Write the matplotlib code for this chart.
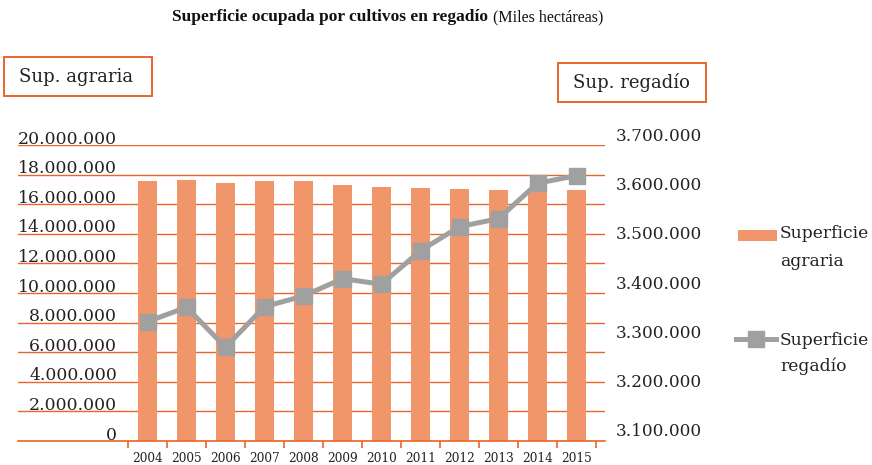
import numpy as np
import matplotlib
matplotlib.use("Agg")
import matplotlib.pyplot as plt
from matplotlib.patches import Rectangle
from matplotlib.lines import Line2D
from matplotlib.transforms import offset_copy, blended_transform_factory

plt.rcParams.update({"font.family": ["DejaVu Serif"], "font.size": 11})

# ---- data ----
years = ["2004", "2005", "2006", "2007", "2008", "2009", "2010", "2011", "2012", "2013", "2014", "2015"]
sup_agraria = [17590000, 17640000, 17450000, 17550000, 17550000, 17300000,
               17180000, 17070000, 17030000, 16960000, 16950000, 16960000]
sup_regadio = [3323700, 3353000, 3271700, 3354200, 3376000, 3411200,
               3399800, 3468100, 3516900, 3533200, 3605200, 3620700]
left_ticks = list(range(0, 20000001, 2000000))
right_ticks = [3100000, 3200000, 3300000, 3400000, 3500000, 3600000, 3700000]

ORANGE, BAR, GREY, INK = "#EA652B", "#F1956A", "#A0A0A0", "#222222"
TITLE_FONT = ["Liberation Serif", "DejaVu Serif"]


def fmt(v):
    return f"{v:,.0f}".replace(",", ".")


W, H = 872, 465
fig = plt.figure(figsize=(W / 100, H / 100), dpi=100)
# plot area in px: x 18..605, y 145..441
ax = fig.add_axes([18 / W, (H - 441) / H, 587 / W, 296 / H])
x = np.arange(len(years))
ax.bar(x, sup_agraria, width=0.51, color=BAR, zorder=2)
ax.set_yticks(left_ticks)
ax.set_ylim(0, 20000000)
ax.yaxis.grid(True, color=ORANGE, lw=1.0, zorder=1)
ax.set_axisbelow(True)
ax.tick_params(axis="y", length=0, labelleft=False)
for s in ["left", "right", "top"]:
    ax.spines[s].set_visible(False)
ax.spines["bottom"].set_color(ORANGE)
ax.spines["bottom"].set_linewidth(1.2)
ax.spines["bottom"].set_zorder(3)

# category boundaries as ticks, years as minor labels
ax.set_xticks(np.arange(-0.5, 12, 1))
ax.set_xticklabels([])
ax.tick_params(axis="x", which="major", length=5, width=1.2, color=ORANGE, direction="out")
ax.set_xticks(x, minor=True)
ax.set_xticklabels(years, minor=True, fontsize=8.7, color=INK)
ax.tick_params(axis="x", which="minor", length=0, pad=8)
ax.set_xlim(-0.5 - 110 / 39, 11.5 + 9 / 39)

# left-axis labels sitting on top of gridlines
tr = blended_transform_factory(ax.transAxes, ax.transData)
tr = offset_copy(tr, fig=fig, x=0, y=1.5, units="dots")
for v in left_ticks:
    ax.text(99 / 587, v, fmt(v), ha="right", va="baseline", fontsize=12.4,
            color=INK, transform=tr)

# secondary axis: irrigated area
ax2 = ax.twinx()
ax2.plot(x, sup_regadio, color=GREY, lw=3.6, marker="s", ms=11, zorder=4)
ax2.set_ylim(3081000, 3683000)
ax2.set_yticks([])
for s in ax2.spines.values():
    s.set_visible(False)
tr2 = blended_transform_factory(ax2.transAxes, ax2.transData)
for v in right_ticks:
    ax2.text(1 + 11 / 587, v, fmt(v), ha="left", va="center", fontsize=12.2,
             color=INK, transform=tr2, clip_on=False)

# title
t1 = fig.text(172 / W, 1 - 17 / H, "Superficie ocupada por cultivos en regadío", family=TITLE_FONT,
              fontweight="bold", fontsize=12.5, va="center", ha="left", color="#111")
fig.canvas.draw()
bb = t1.get_window_extent()
fig.text((bb.x1 + 5) / W, 1 - 17 / H, "(Miles hectáreas)", family=TITLE_FONT, fontsize=11.5,
         va="center", ha="left", color="#111")

# axis caption boxes
fig.patches.append(Rectangle((4 / W, 1 - 96 / H), 148 / W, 39 / H, transform=fig.transFigure,
                             fill=False, ec=ORANGE, lw=1.4))
fig.text(19 / W, 1 - 77 / H, "Sup. agraria", fontsize=13, va="center", ha="left", color=INK)
fig.patches.append(Rectangle((558 / W, 1 - 102 / H), 148 / W, 39 / H, transform=fig.transFigure,
                             fill=False, ec=ORANGE, lw=1.4))
fig.text(631.5 / W, 1 - 83 / H, "Sup. regadío", fontsize=13, va="center", ha="center", color=INK)

# legend
fig.patches.append(Rectangle((738 / W, 1 - 241 / H), 39 / W, 11 / H, transform=fig.transFigure,
                             fc=BAR, ec="none"))
fig.text(780 / W, 1 - 234 / H, "Superficie", fontsize=12.3, va="center", ha="left", color=INK)
fig.text(780 / W, 1 - 261 / H, "agraria", fontsize=12.3, va="center", ha="left", color=INK)
fig.lines.append(Line2D([736 / W, 776 / W], [1 - 339 / H] * 2, transform=fig.transFigure,
                        color=GREY, lw=3.6))
fig.lines.append(Line2D([756 / W], [1 - 339 / H], transform=fig.transFigure,
                        color=GREY, marker="s", ms=11, lw=0))
fig.text(780 / W, 1 - 340 / H, "Superficie", fontsize=12.3, va="center", ha="left", color=INK)
fig.text(780 / W, 1 - 366 / H, "regadío", fontsize=12.3, va="center", ha="left", color=INK)

fig.savefig("out.png", dpi=100)
